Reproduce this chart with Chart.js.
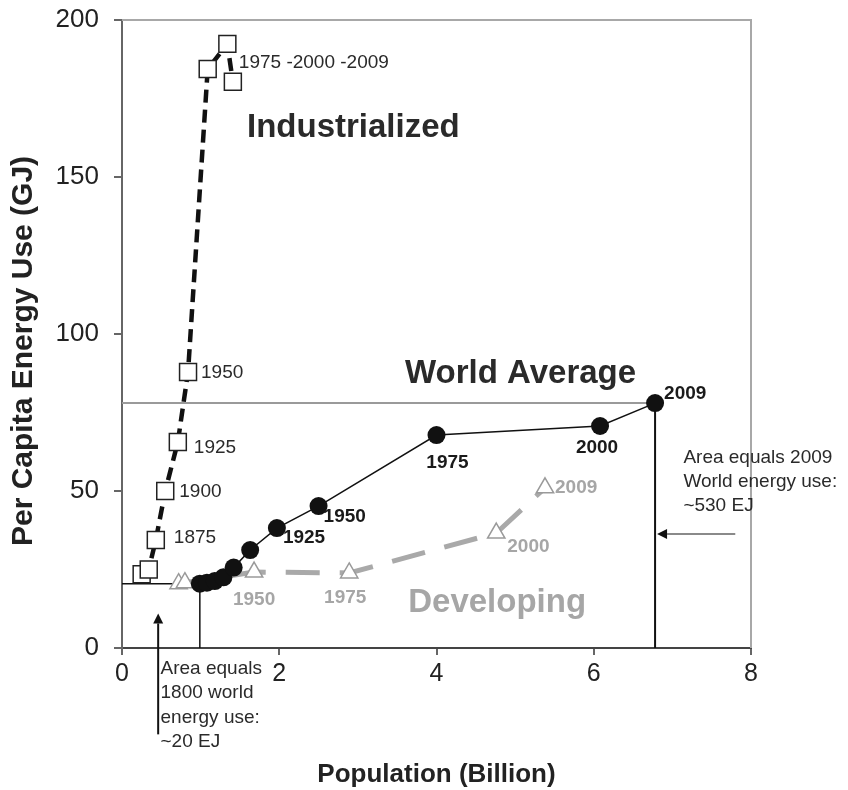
<!DOCTYPE html>
<html>
<head>
<meta charset="utf-8">
<script src="https://cdn.jsdelivr.net/npm/chart.js@4.4.1/dist/chart.umd.min.js"></script>
<style>
  html, body { margin: 0; padding: 0; background: #fff; }
  #wrap { width: 848px; height: 790px; }
</style>
</head>
<body>
<div id="wrap"><canvas id="energyChart" width="848" height="790"></canvas></div>
<script>
// Per capita energy use vs population, 1800-2009
const industrialPop = [0.25, 0.34, 0.43, 0.55, 0.71, 0.84, 1.09, 1.34, 1.41];
const industrialEnergy = [23.5, 25, 34.4, 50, 65.6, 87.9, 184.4, 192.4, 180.3];
const industrialYears = ['', '', '1875', '1900', '1925', '1950', '', '', '1975 -2000 -2009'];

const worldPop = [0.99, 1.08, 1.18, 1.29, 1.42, 1.63, 1.97, 2.50, 4.00, 6.08, 6.78];
const worldEnergy = [20.5, 20.8, 21.3, 22.5, 25.6, 31.2, 38.2, 45.2, 67.8, 70.7, 78];
const worldYears = ['', '', '', '', '', '', '1925', '1950', '1975', '2000', '2009'];

const developingPop = [0.72, 0.80, 1.68, 2.89, 4.76, 5.38];
const developingEnergy = [20.5, 20.8, 24.2, 23.9, 36.6, 51];
const developingYears = ['', '', '1950', '1975', '2000', '2009'];

const xTicks = [0, 2, 4, 6, 8];
const yTicks = [0, 50, 100, 150, 200];

const FONT = "'Liberation Sans', Arial, Helvetica, sans-serif";

function toPoints(xs, ys) {
    return xs.map((x, i) => ({ x: x, y: ys[i] }));
}

const lastWorld = worldPop.length - 1;

// label placement per point: [dx, dy, align]
const industrialLabelPos = {2: [18, -2, 'left'], 3: [14, 1, 'left'], 4: [16, 6, 'left'], 5: [13, 1, 'left'], 8: [6, -19, 'left']};
const worldLabelPos = {6: [6, 10, 'left'], 7: [5, 11, 'left'], 8: [11, 28, 'center'], 9: [-3, 22, 'center'], 10: [9, -9, 'left']};
const developingLabelPos = {2: [0, 28, 'center'], 3: [-4, 25, 'center'], 4: [11, 14, 'left'], 5: [10, 0, 'left']};

function drawArrow(ctx, x1, y1, x2, y2, lineColor, headColor) {
    const ang = Math.atan2(y2 - y1, x2 - x1);
    const len = 10, half = 5;
    ctx.save();
    ctx.strokeStyle = lineColor;
    ctx.lineWidth = 2;
    ctx.beginPath();
    ctx.moveTo(x1, y1);
    ctx.lineTo(x2 - Math.cos(ang) * len, y2 - Math.sin(ang) * len);
    ctx.stroke();
    ctx.fillStyle = headColor;
    ctx.beginPath();
    ctx.moveTo(x2, y2);
    ctx.lineTo(x2 - Math.cos(ang) * len - Math.sin(ang) * half, y2 - Math.sin(ang) * len + Math.cos(ang) * half);
    ctx.lineTo(x2 - Math.cos(ang) * len + Math.sin(ang) * half, y2 - Math.sin(ang) * len - Math.cos(ang) * half);
    ctx.closePath();
    ctx.fill();
    ctx.restore();
}

const overlayPlugin = {
    id: 'overlay',
    beforeDatasetsDraw(chart) {
        const { ctx, chartArea: a } = chart;
        ctx.save();
        ctx.strokeStyle = '#a8a8a8';
        ctx.lineWidth = 2;
        ctx.beginPath();
        ctx.moveTo(a.left, a.top);
        ctx.lineTo(a.right, a.top);
        ctx.lineTo(a.right, a.bottom);
        ctx.stroke();
        ctx.restore();
    },
    afterDraw(chart) {
        const { ctx } = chart;
        const xs = chart.scales.x, ys = chart.scales.y;
        const px = v => xs.getPixelForValue(v);
        const py = v => ys.getPixelForValue(v);

        function seriesLabels(idx, years, pos, font, color) {
            const meta = chart.getDatasetMeta(idx);
            ctx.save();
            ctx.font = font;
            ctx.fillStyle = color;
            ctx.textBaseline = 'middle';
            years.forEach((t, i) => {
                if (!t || !pos[i]) return;
                const el = meta.data[i];
                ctx.textAlign = pos[i][2];
                ctx.fillText(t, el.x + pos[i][0], el.y + pos[i][1]);
            });
            ctx.restore();
        }
        seriesLabels(0, industrialYears, industrialLabelPos, '19px ' + FONT, '#2a2a2a');
        seriesLabels(1, worldYears, worldLabelPos, 'bold 19px ' + FONT, '#1a1a1a');
        seriesLabels(2, developingYears, developingLabelPos, 'bold 19px ' + FONT, '#a6a6a6');

        ctx.save();
        ctx.textBaseline = 'middle';
        ctx.textAlign = 'left';
        ctx.font = 'bold 33px ' + FONT;
        ctx.fillStyle = '#2a2a2a';
        ctx.fillText('Industrialized', px(1.59), py(165.6));
        ctx.fillText('World Average', px(3.60), py(87.3));
        ctx.fillStyle = '#a6a6a6';
        ctx.fillText('Developing', px(3.64), py(14.3));

        ctx.font = '19px ' + FONT;
        ctx.fillStyle = '#2a2a2a';
        ['Area equals 2009', 'World energy use:', '~530 EJ'].forEach((t, i) => {
            ctx.fillText(t, px(7.14), py(60.5) + i * 24);
        });
        ['Area equals', '1800 world', 'energy use:', '~20 EJ'].forEach((t, i) => {
            ctx.fillText(t, px(0.49), py(-6.5) + i * 24.5);
        });

        // y axis title, sits a little below the axis middle
        ctx.translate(24, py(94.6));
        ctx.rotate(-Math.PI / 2);
        ctx.textAlign = 'center';
        ctx.font = 'bold 30px ' + FONT;
        ctx.fillStyle = '#222';
        ctx.fillText('Per Capita Energy Use (GJ)', 0, 0);
        ctx.restore();

        drawArrow(ctx, px(7.8), py(36.3), px(6.78) + 2, py(36.3), '#8a8a8a', '#111');
        drawArrow(ctx, px(0.46), py(-27.5), px(0.46), py(11), '#111', '#111');
    }
};

new Chart(document.getElementById('energyChart'), {
    type: 'scatter',
    data: {
        datasets: [
            {
                label: 'Industrialized',
                data: toPoints(industrialPop, industrialEnergy),
                showLine: true,
                borderColor: '#111',
                borderWidth: 4.5,
                borderDash: [13, 7],
                pointStyle: 'rect',
                pointRadius: 12,
                pointBorderWidth: 1.5,
                pointBorderColor: '#222',
                pointBackgroundColor: '#fff'
            },
            {
                label: 'World',
                data: toPoints(worldPop, worldEnergy),
                showLine: true,
                borderColor: '#111',
                borderWidth: 1.5,
                pointStyle: 'circle',
                pointRadius: 9,
                pointBorderWidth: 0,
                pointBackgroundColor: '#111'
            },
            {
                label: 'Developing',
                data: toPoints(developingPop, developingEnergy),
                showLine: true,
                borderColor: '#a9a9a9',
                borderWidth: 5,
                borderDash: [34, 20],
                pointStyle: 'triangle',
                pointRadius: 10,
                pointBorderWidth: 1.5,
                pointBorderColor: '#9a9a9a',
                pointBackgroundColor: '#fff'
            },
            {
                label: 'World average level',
                data: [{ x: 0, y: worldEnergy[lastWorld] }, { x: worldPop[lastWorld], y: worldEnergy[lastWorld] }],
                showLine: true,
                borderColor: '#9a9a9a',
                borderWidth: 2,
                pointRadius: 0
            },
            {
                label: '2009 area edge',
                data: [{ x: worldPop[lastWorld], y: worldEnergy[lastWorld] }, { x: worldPop[lastWorld], y: 0 }],
                showLine: true,
                borderColor: '#111',
                borderWidth: 2,
                pointRadius: 0
            },
            {
                label: '1800 area',
                data: [{ x: 0, y: worldEnergy[0] }, { x: worldPop[0], y: worldEnergy[0] }, { x: worldPop[0], y: 0 }],
                showLine: true,
                borderColor: '#111',
                borderWidth: 1.5,
                pointRadius: 0
            }
        ]
    },
    options: {
        responsive: false,
        animation: false,
        layout: { padding: { top: 20, right: 97, left: 0, bottom: 0 } },
        plugins: {
            legend: { display: false },
            tooltip: { enabled: false }
        },
        scales: {
            x: {
                type: 'linear',
                min: 0,
                max: 8,
                afterBuildTicks: s => { s.ticks = xTicks.map(v => ({ value: v })); },
                afterFit: s => { s.height = 142; s.paddingLeft = 0; s.paddingRight = 0; },
                ticks: { font: { family: FONT, size: 25 }, color: '#222', padding: 4 },
                grid: { drawOnChartArea: false, tickLength: 7, color: '#666', lineWidth: 2 },
                border: { color: '#444', width: 2 },
                title: {
                    display: true,
                    text: 'Population (Billion)',
                    font: { family: FONT, size: 26, weight: 'bold' },
                    color: '#222',
                    padding: { top: 0, bottom: 0 }
                }
            },
            y: {
                type: 'linear',
                min: 0,
                max: 200,
                afterBuildTicks: s => { s.ticks = yTicks.map(v => ({ value: v })); },
                afterFit: s => { s.width = 122; s.paddingTop = 0; s.paddingBottom = 0; },
                ticks: { font: { family: FONT, size: 26 }, color: '#222', padding: 15 },
                grid: { drawOnChartArea: false, tickLength: 8, color: '#666', lineWidth: 2 },
                border: { color: '#666', width: 2 }
            }
        }
    },
    plugins: [overlayPlugin]
});
</script>
</body>
</html>
